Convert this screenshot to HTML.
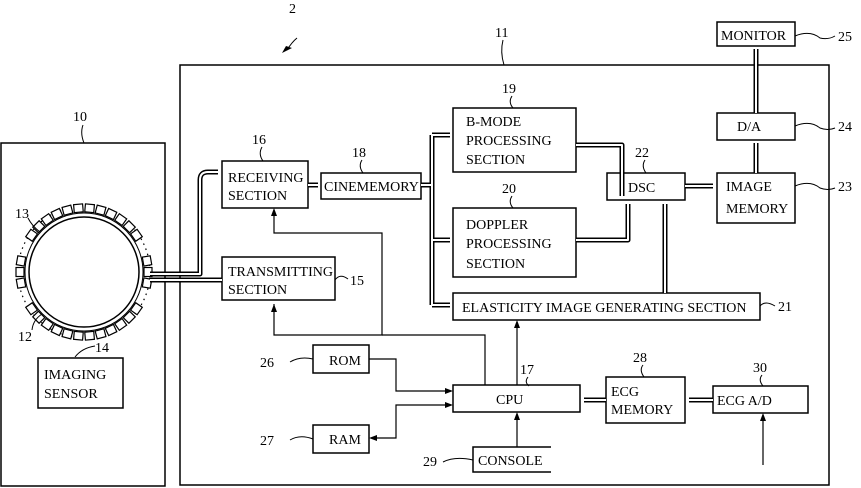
<!DOCTYPE html>
<html><head><meta charset="utf-8"><style>
html,body{margin:0;padding:0;background:#fff}
svg{display:block}
text{font-family:"Liberation Serif",serif;font-size:14px;fill:#000}
.n{font-size:15px}
</style></head><body>
<svg width="861" height="488" viewBox="0 0 861 488" xmlns="http://www.w3.org/2000/svg">
<g fill="none" stroke="#000" stroke-width="1.5">
<rect x="180" y="65" width="649" height="420"/>
<rect x="1" y="143" width="164" height="343"/>
<rect x="222" y="161" width="86" height="47"/>
<rect x="222" y="257" width="113" height="43"/>
<rect x="321" y="173" width="100" height="26"/>
<rect x="453" y="108" width="123" height="64"/>
<rect x="453" y="208" width="123" height="69"/>
<rect x="453" y="293" width="307" height="27"/>
<rect x="607" y="173" width="78" height="27"/>
<rect x="717" y="173" width="78" height="50"/>
<rect x="717" y="113" width="78" height="27"/>
<rect x="717" y="22" width="78" height="24"/>
<rect x="313" y="345" width="56" height="28"/>
<rect x="313" y="425" width="56" height="28"/>
<rect x="453" y="385" width="127" height="27"/>
<polyline points="551,447 473,447 473,472 551,472"/>
<rect x="606" y="377" width="79" height="46"/>
<rect x="713" y="386" width="95" height="27"/>
<rect x="38" y="358" width="85" height="50"/>
<circle cx="84" cy="272" r="55"/>
<circle cx="84" cy="272" r="59" stroke-width="1"/>
<circle cx="84" cy="272" r="66" stroke-width="1.2" stroke-dasharray="1.5 4"/>
</g>
<!-- transducer elements -->
<g fill="#fff" stroke="#000" stroke-width="1.2">
<rect x="79.5" y="204" width="9" height="8" transform="rotate(-55 84 272)"/>
<rect x="79.5" y="204" width="9" height="8" transform="rotate(-45 84 272)"/>
<rect x="79.5" y="204" width="9" height="8" transform="rotate(-35 84 272)"/>
<rect x="79.5" y="204" width="9" height="8" transform="rotate(-25 84 272)"/>
<rect x="79.5" y="204" width="9" height="8" transform="rotate(-15 84 272)"/>
<rect x="79.5" y="204" width="9" height="8" transform="rotate(-5 84 272)"/>
<rect x="79.5" y="204" width="9" height="8" transform="rotate(5 84 272)"/>
<rect x="79.5" y="204" width="9" height="8" transform="rotate(15 84 272)"/>
<rect x="79.5" y="204" width="9" height="8" transform="rotate(25 84 272)"/>
<rect x="79.5" y="204" width="9" height="8" transform="rotate(35 84 272)"/>
<rect x="79.5" y="204" width="9" height="8" transform="rotate(45 84 272)"/>
<rect x="79.5" y="204" width="9" height="8" transform="rotate(55 84 272)"/>
<rect x="79.5" y="204" width="9" height="8" transform="rotate(125 84 272)"/>
<rect x="79.5" y="204" width="9" height="8" transform="rotate(135 84 272)"/>
<rect x="79.5" y="204" width="9" height="8" transform="rotate(145 84 272)"/>
<rect x="79.5" y="204" width="9" height="8" transform="rotate(155 84 272)"/>
<rect x="79.5" y="204" width="9" height="8" transform="rotate(165 84 272)"/>
<rect x="79.5" y="204" width="9" height="8" transform="rotate(175 84 272)"/>
<rect x="79.5" y="204" width="9" height="8" transform="rotate(185 84 272)"/>
<rect x="79.5" y="204" width="9" height="8" transform="rotate(195 84 272)"/>
<rect x="79.5" y="204" width="9" height="8" transform="rotate(205 84 272)"/>
<rect x="79.5" y="204" width="9" height="8" transform="rotate(215 84 272)"/>
<rect x="79.5" y="204" width="9" height="8" transform="rotate(225 84 272)"/>
<rect x="79.5" y="204" width="9" height="8" transform="rotate(235 84 272)"/>
<rect x="79.5" y="204" width="9" height="8" transform="rotate(-90 84 272)"/>
<rect x="79.5" y="204" width="9" height="8" transform="rotate(-80 84 272)"/>
<rect x="79.5" y="204" width="9" height="8" transform="rotate(-100 84 272)"/>
<rect x="79.5" y="204" width="9" height="8" transform="rotate(90 84 272)"/>
<rect x="79.5" y="204" width="9" height="8" transform="rotate(80 84 272)"/>
<rect x="79.5" y="204" width="9" height="8" transform="rotate(100 84 272)"/>
</g>
<!-- double-line connectors -->
<g fill="none" stroke="#000" stroke-width="5" stroke-linejoin="round">
<path d="M150 274 H200 V180 Q200 172 208 172 H218"/>
<path d="M150 280 H222"/>
<path d="M308 185 H318"/>
<path d="M421 185 H432 M432 135 V305 M432 135 H450 M432 240 H450 M432 305 H450"/>
<path d="M576 145 H622 V196"/>
<path d="M576 240 H628 V204"/>
<path d="M665 293 V204"/>
<path d="M685 186 H713"/>
<path d="M756 173 V143"/>
<path d="M756 113 V49"/>
<path d="M606 400 H584"/>
<path d="M713 400 H689"/>
</g>
<g fill="none" stroke="#fff" stroke-width="2" stroke-linejoin="round">
<path d="M150 274 H200 V180 Q200 172 208 172 H218"/>
<path d="M150 280 H222"/>
<path d="M308 185 H318"/>
<path d="M421 185 H432 M432 135 V305 M432 135 H450 M432 240 H450 M432 305 H450"/>
<path d="M576 145 H622 V196"/>
<path d="M576 240 H628 V204"/>
<path d="M665 293 V204"/>
<path d="M685 186 H713"/>
<path d="M756 173 V143"/>
<path d="M756 113 V49"/>
<path d="M606 400 H584"/>
<path d="M713 400 H689"/>
</g>
<!-- single lines -->
<g fill="none" stroke="#000" stroke-width="1.2">
<path d="M274 212 V233 H382 V335 H274 V304"/>
<path d="M382 335 H485 V385"/>
<path d="M517 385 V324"/>
<path d="M369 359 H396 V391 H449"/>
<path d="M449 405 H396 V438 H373"/>
<path d="M517 447 V416"/>
<path d="M763 465 V416"/>
</g>
<g fill="#000">
<polygon points="274,208 271,216 277,216"/>
<polygon points="274,304 271,312 277,312"/>
<polygon points="517,320 514,328 520,328"/>
<polygon points="517,412 514,420 520,420"/>
<polygon points="763,413 760,421 766,421"/>
<polygon points="453,391 445,388 445,394"/>
<polygon points="453,405 445,402 445,408"/>
<polygon points="369,438 377,435 377,441"/>
</g>
<!-- leaders -->
<g fill="none" stroke="#000" stroke-width="1">
<path d="M83 125 Q80 133 84 143"/>
<path d="M503 40 Q500 52 504 65"/>
<path d="M335 280 Q340 273 348 279"/>
<path d="M262 147 Q258 154 263 161"/>
<path d="M362 160 Q358 166 363 173"/>
<path d="M512 96 Q508 102 513 108"/>
<path d="M512 196 Q508 202 513 208"/>
<path d="M645 160 Q641 166 646 173"/>
<path d="M760 306 Q765 300 775 306"/>
<path d="M795 186 Q810 180 820 188 Q828 191 835 188"/>
<path d="M795 126 Q810 120 820 128 Q828 131 835 128"/>
<path d="M795 36 Q810 30 820 38 Q828 40 835 36"/>
<path d="M290 362 Q300 356 313 359"/>
<path d="M290 440 Q300 434 313 439"/>
<path d="M443 462 Q455 456 473 460"/>
<path d="M528 377 Q524 382 529 386"/>
<path d="M643 365 Q639 370 644 377"/>
<path d="M762 375 Q758 380 763 386"/>
<path d="M28 218 Q32 226 40 232"/>
<path d="M32 330 Q33 320 42 314"/>
<path d="M75 357 Q82 348 95 346"/>
</g>
<path d="M292 48 L286 46 L282 53 Z" fill="#000"/>
<path d="M297 38 Q292 42 287 50" fill="none" stroke="#000"/>
<!-- labels -->
<g class="n">
<text x="289" y="13">2</text>
<text x="495" y="37">11</text>
<text x="73" y="121">10</text>
<text x="252" y="144">16</text>
<text x="352" y="157">18</text>
<text x="502" y="93">19</text>
<text x="502" y="193">20</text>
<text x="635" y="157">22</text>
<text x="350" y="285">15</text>
<text x="778" y="311">21</text>
<text x="838" y="41">25</text>
<text x="838" y="131">24</text>
<text x="838" y="191">23</text>
<text x="260" y="367">26</text>
<text x="260" y="445">27</text>
<text x="423" y="466">29</text>
<text x="520" y="374">17</text>
<text x="633" y="362">28</text>
<text x="753" y="372">30</text>
<text x="15" y="218">13</text>
<text x="18" y="341">12</text>
<text x="95" y="352">14</text>
</g>
<text x="228" y="182">RECEIVING</text>
<text x="228" y="200">SECTION</text>
<text x="228" y="276">TRANSMITTING</text>
<text x="228" y="294">SECTION</text>
<text x="324" y="191">CINEMEMORY</text>
<text x="466" y="126">B-MODE</text>
<text x="466" y="145">PROCESSING</text>
<text x="466" y="164">SECTION</text>
<text x="466" y="229">DOPPLER</text>
<text x="466" y="248">PROCESSING</text>
<text x="466" y="268">SECTION</text>
<text x="462" y="312">ELASTICITY IMAGE GENERATING SECTION</text>
<text x="628" y="192">DSC</text>
<text x="726" y="191">IMAGE</text>
<text x="726" y="213">MEMORY</text>
<text x="737" y="131">D/A</text>
<text x="721" y="40">MONITOR</text>
<text x="329" y="365">ROM</text>
<text x="329" y="444">RAM</text>
<text x="496" y="404">CPU</text>
<text x="478" y="465">CONSOLE</text>
<text x="611" y="396">ECG</text>
<text x="611" y="414">MEMORY</text>
<text x="717" y="405">ECG A/D</text>
<text x="44" y="379">IMAGING</text>
<text x="44" y="398">SENSOR</text>
</svg>
</body></html>
